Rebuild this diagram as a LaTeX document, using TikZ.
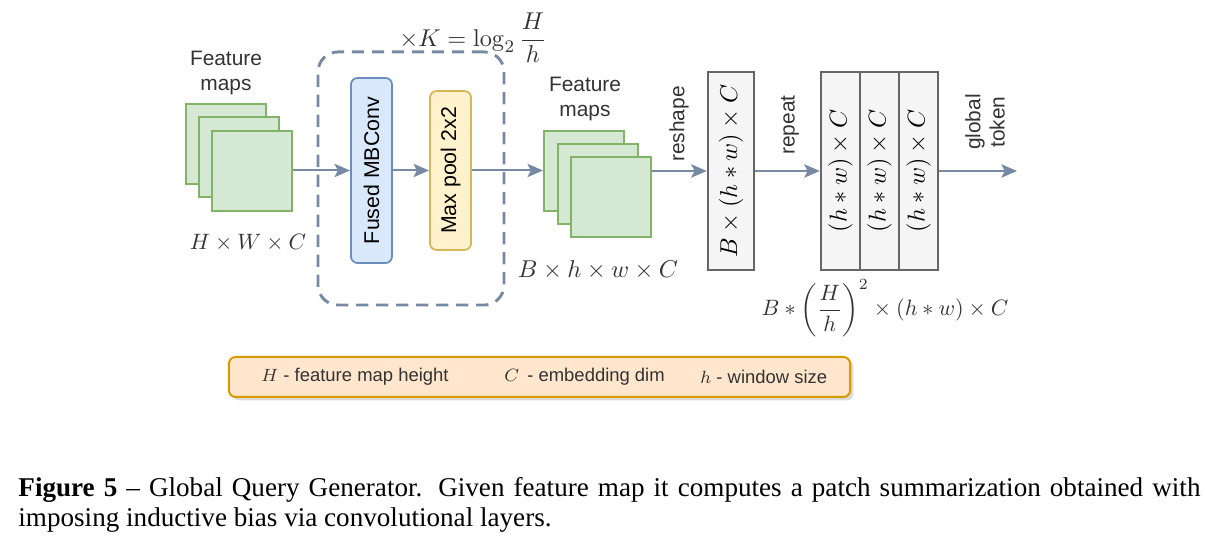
\documentclass[tikz,border=0pt]{standalone}
\usepackage[no-math]{fontspec}
\setsansfont{Liberation Sans}
\newfontfamily\capfont{Liberation Serif}
\usepackage{amsmath}
\usetikzlibrary{arrows.meta,positioning,shadows}

\definecolor{flowblue}{HTML}{788AA3}
\definecolor{mapline}{HTML}{82B366}
\definecolor{mapfill}{HTML}{D5E8D4}
\definecolor{convline}{HTML}{6C8EBF}
\definecolor{convfill}{HTML}{DAE8FC}
\definecolor{poolline}{HTML}{D6B656}
\definecolor{poolfill}{HTML}{FFF2CC}
\definecolor{tensline}{HTML}{666666}
\definecolor{tensfill}{HTML}{F5F5F5}
\definecolor{legline}{HTML}{D79B00}
\definecolor{legfill}{HTML}{FFE6CC}
\definecolor{txt}{HTML}{333333}

\begin{document}
\begin{tikzpicture}[x=0.45pt,y=-0.45pt,
	>={Stealth[length=7pt,width=6pt,inset=1.5pt]},
	flow/.style={->,draw=flowblue,line width=0.9pt},
	fmap/.style={draw=mapline,fill=mapfill,line width=0.9pt,minimum size=36pt,inner sep=0pt},
	layer/.style={rounded corners=3pt,line width=0.8pt,rotate=90,minimum height=18.5pt,inner sep=0pt,
		font=\sffamily\fontsize{9.6}{11}\selectfont},
	tensor/.style={draw=tensline,fill=tensfill,line width=1.1pt,rotate=90,minimum width=89pt,inner sep=0pt,
		font=\fontsize{11.3}{13}\selectfont},
	lbl/.style={font=\sffamily\fontsize{9.4}{11}\selectfont,text=txt,align=center},
	leg/.style={font=\sffamily\fontsize{8.3}{10}\selectfont,text=txt,anchor=west,inner sep=0pt},
	mth/.style={text=txt},
	capline/.style={anchor=base west,inner sep=0pt,font=\capfont\fontsize{12.2}{14}\selectfont}]
	\useasboundingbox (0,0) rectangle (1205,538);

	% input feature maps
	\node[fmap] (in1) at (226,144) {};
	\node[fmap] (in2) at (239,157) {};
	\node[fmap] (in3) at (252,171) {};
	\node[lbl] (inlbl) at (226,73) {Feature\\maps};
	\node[mth,font=\fontsize{10.3}{12}\selectfont] (indim) at (248,243) {$H\times W\times C$};

	% repeated block
	\node[draw=flowblue,line width=1.3pt,dash pattern=on 5.5pt off 3.5pt,rounded corners=9pt,
		minimum width=83.7pt,minimum height=113.9pt] (blk) at (411,178.5) {};
	\node[mth,font=\fontsize{11}{13}\selectfont] (times) at (473,38) {$\times K=\log_2\dfrac{H}{h}$};
	\node[layer,draw=convline,fill=convfill,minimum width=83.3pt] (conv) at (371.5,170.5) {Fused MBConv};
	\node[layer,draw=poolline,fill=poolfill,minimum width=71.5pt] (pool) at (450.5,170.5) {Max pool 2x2};

	% output feature maps
	\node[fmap] (out1) at (584,171) {};
	\node[fmap] (out2) at (597.5,184) {};
	\node[fmap] (out3) at (610.5,197.5) {};
	\node[lbl] (outlbl) at (585,99) {Feature\\maps};
	\node[mth,font=\fontsize{11.2}{13}\selectfont] (outdim) at (598,270) {$B\times h\times w\times C$};

	% tokens
	\node[tensor,minimum height=20.7pt] (flat) at (731,171) {$B\times(h*w)\times C$};
	\node[tensor,minimum height=17.5pt] (rep1) at (840.5,171) {$(h*w)\times C$};
	\node[tensor,minimum height=17.5pt] (rep2) at (879.5,171) {$(h*w)\times C$};
	\node[tensor,minimum height=17.5pt] (rep3) at (918.5,171) {$(h*w)\times C$};
	\node[mth,font=\fontsize{10.4}{12}\selectfont] (repdim) at (885,308) {$B*\left(\dfrac{H}{h}\right)^{2}\times(h*w)\times C$};
	\coordinate (tok) at (1017,171);

	% arrows (rotated nodes: north is left, south is right)
	\draw[flow] (in3.east |- conv) -- (conv.north);
	\draw[flow] (conv.south) -- (pool.north);
	\draw[flow] (pool.south) -- (pool.south -| out1.west);
	\draw[flow] (out3.east |- flat) -- (flat.north);
	\draw[flow] (flat.south) -- (rep1.north);
	\draw[flow] (rep3.south) -- (tok);
	\node[lbl,rotate=90] (reshape) at (679,124) {reshape};
	\node[lbl,rotate=90] (repeat) at (790,125) {repeat};
	\node[lbl,rotate=90] (global) at (985,122) {global\\token};

	% legend
	\node[draw=legline,fill=legfill,line width=0.9pt,rounded corners=3pt,
		drop shadow={shadow xshift=1.5pt,shadow yshift=-1.5pt,opacity=0.3},
		minimum width=279.5pt,minimum height=18pt] (legend) at (539.5,377) {};
	\node[leg] (legH) at (261,377) {$H$ - feature map height};
	\node[leg] (legC) at (504,377) {$C$ \,- embedding dim};
	\node[leg] (legh) at (700,377) {$h$ - window size};

	% caption
	\node[capline] (cap1) at (18,497)
		{\makebox[531.9pt][s]{\textbf{Figure 5} – Global Query Generator. Given feature map it computes a patch summarization obtained with}};
	\node[capline] (cap2) at (18,527)
		{imposing inductive bias via convolutional layers.};
\end{tikzpicture}
\end{document}
